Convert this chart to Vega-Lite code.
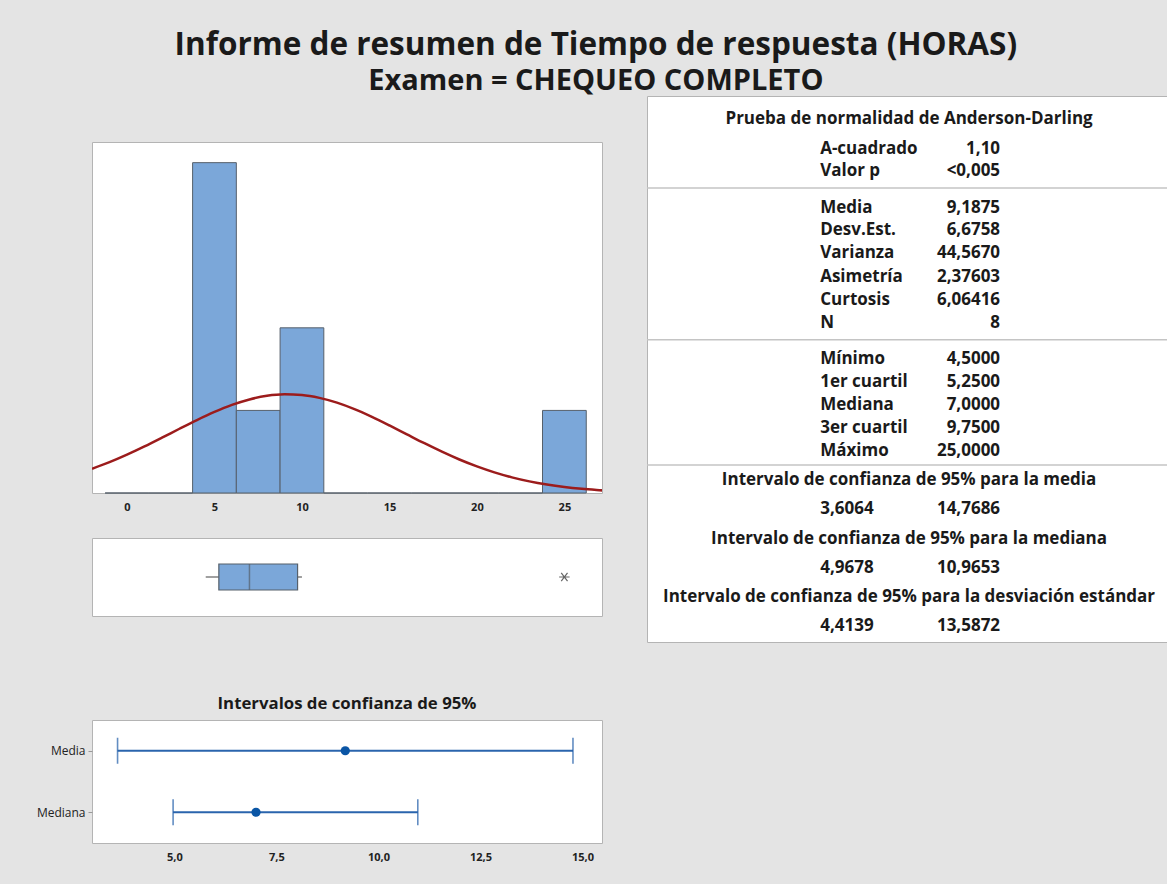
{
  "$schema": "https://vega.github.io/schema/vega-lite/v6.json",
  "background": "#e4e4e4",
  "padding": {"left": 31, "top": 30, "right": 0, "bottom": 60},
  "title": {
    "text": "Informe de resumen de Tiempo de respuesta (HORAS)",
    "subtitle": "Examen = CHEQUEO COMPLETO",
    "anchor": "middle", "dx": -4,
    "font": "Open Sans", "fontSize": 31.5, "fontWeight": "bold", "color": "#1a1a1a",
    "subtitleFont": "Open Sans", "subtitleFontSize": 29, "subtitleFontWeight": "bold", "subtitleColor": "#1a1a1a",
    "subtitlePadding": 5, "offset": 0
  },
  "config": {
    "view": {"fill": "white", "stroke": "#b4b4b4", "strokeWidth": 1},
    "font": "Open Sans",
    "axis": {"grid": false, "labelFont": "Open Sans", "labelColor": "#222222", "titleFont": "Open Sans"}
  },
  "datasets": {
    "bins": [
      {"start": -1.25, "end": 1.25, "count": 0},
      {"start": 1.25, "end": 3.75, "count": 0},
      {"start": 3.75, "end": 6.25, "count": 4},
      {"start": 6.25, "end": 8.75, "count": 1},
      {"start": 8.75, "end": 11.25, "count": 2},
      {"start": 11.25, "end": 13.75, "count": 0},
      {"start": 13.75, "end": 16.25, "count": 0},
      {"start": 16.25, "end": 18.75, "count": 0},
      {"start": 18.75, "end": 21.25, "count": 0},
      {"start": 21.25, "end": 23.75, "count": 0},
      {"start": 23.75, "end": 26.25, "count": 1}
    ],
    "curve": [
      {"x": -2, "dens": 0.2935}, {"x": -1, "dens": 0.3730}, {"x": 0, "dens": 0.4636},
      {"x": 1, "dens": 0.5634}, {"x": 2, "dens": 0.6694}, {"x": 3, "dens": 0.7779},
      {"x": 4, "dens": 0.8837}, {"x": 5, "dens": 0.9817}, {"x": 6, "dens": 1.0665},
      {"x": 7, "dens": 1.1327}, {"x": 8, "dens": 1.1764}, {"x": 9, "dens": 1.1947},
      {"x": 10, "dens": 1.1864}, {"x": 11, "dens": 1.1519}, {"x": 12, "dens": 1.0937},
      {"x": 13, "dens": 1.0153}, {"x": 14, "dens": 0.9217}, {"x": 15, "dens": 0.8181},
      {"x": 16, "dens": 0.7101}, {"x": 17, "dens": 0.6026}, {"x": 18, "dens": 0.5001},
      {"x": 19, "dens": 0.4058}, {"x": 20, "dens": 0.3220}, {"x": 21, "dens": 0.2498},
      {"x": 22, "dens": 0.1894}, {"x": 23, "dens": 0.1405}, {"x": 24, "dens": 0.1020},
      {"x": 25, "dens": 0.0723}, {"x": 26, "dens": 0.0502}, {"x": 27, "dens": 0.0340},
      {"x": 27.2, "dens": 0.0310}
    ],
    "box": [
      {"g": "a", "wlo": 4.5, "q1": 5.25, "med": 7.0, "q3": 9.75, "whi": 10.0, "out": 25.0}
    ],
    "ci": [
      {"stat": "Media", "lo": 3.6064, "est": 9.1875, "hi": 14.7686},
      {"stat": "Mediana", "lo": 4.9678, "est": 7.0, "hi": 10.9653}
    ],
    "table": [
      {"t": "Prueba de normalidad de Anderson-Darling", "row": 1.0, "x": 50.4, "al": "c"},
      {"t": "A-cuadrado", "row": 2.3, "x": 33.3, "al": "l"},
      {"t": "1,10", "row": 2.3, "x": 67.9, "al": "r"},
      {"t": "Valor p", "row": 3.26, "x": 33.3, "al": "l"},
      {"t": "<0,005", "row": 3.26, "x": 67.9, "al": "r"},
      {"t": "Media", "row": 4.87, "x": 33.3, "al": "l"},
      {"t": "9,1875", "row": 4.87, "x": 67.9, "al": "r"},
      {"t": "Desv.Est.", "row": 5.83, "x": 33.3, "al": "l"},
      {"t": "6,6758", "row": 5.83, "x": 67.9, "al": "r"},
      {"t": "Varianza", "row": 6.83, "x": 33.3, "al": "l"},
      {"t": "44,5670", "row": 6.83, "x": 67.9, "al": "r"},
      {"t": "Asimetría", "row": 7.87, "x": 33.3, "al": "l"},
      {"t": "2,37603", "row": 7.87, "x": 67.9, "al": "r"},
      {"t": "Curtosis", "row": 8.87, "x": 33.3, "al": "l"},
      {"t": "6,06416", "row": 8.87, "x": 67.9, "al": "r"},
      {"t": "N", "row": 9.87, "x": 33.3, "al": "l"},
      {"t": "8", "row": 9.87, "x": 67.9, "al": "r"},
      {"t": "Mínimo", "row": 11.43, "x": 33.3, "al": "l"},
      {"t": "4,5000", "row": 11.43, "x": 67.9, "al": "r"},
      {"t": "1er cuartil", "row": 12.43, "x": 33.3, "al": "l"},
      {"t": "5,2500", "row": 12.43, "x": 67.9, "al": "r"},
      {"t": "Mediana", "row": 13.43, "x": 33.3, "al": "l"},
      {"t": "7,0000", "row": 13.43, "x": 67.9, "al": "r"},
      {"t": "3er cuartil", "row": 14.43, "x": 33.3, "al": "l"},
      {"t": "9,7500", "row": 14.43, "x": 67.9, "al": "r"},
      {"t": "Máximo", "row": 15.43, "x": 33.3, "al": "l"},
      {"t": "25,0000", "row": 15.43, "x": 67.9, "al": "r"},
      {"t": "Intervalo de confianza de 95% para la media", "row": 16.7, "x": 50.4, "al": "c"},
      {"t": "3,6064", "row": 17.96, "x": 33.3, "al": "l"},
      {"t": "14,7686", "row": 17.96, "x": 67.9, "al": "r"},
      {"t": "Intervalo de confianza de 95% para la mediana", "row": 19.26, "x": 50.4, "al": "c"},
      {"t": "4,9678", "row": 20.52, "x": 33.3, "al": "l"},
      {"t": "10,9653", "row": 20.52, "x": 67.9, "al": "r"},
      {"t": "Intervalo de confianza de 95% para la desviación estándar", "row": 21.78, "x": 50.4, "al": "c"},
      {"t": "4,4139", "row": 23.04, "x": 33.3, "al": "l"},
      {"t": "13,5872", "row": 23.04, "x": 67.9, "al": "r"}
    ],
    "seps": [
      {"row": 4.0, "x0": 0, "x1": 100},
      {"row": 10.6, "x0": 0, "x1": 100},
      {"row": 16.04, "x0": 0, "x1": 100}
    ]
  },
  "spacing": 42,
  "hconcat": [
    {
      "spacing": 0,
      "vconcat": [
        {
          "width": 510,
          "height": 44,
          "view": {"fill": "transparent", "stroke": "transparent"},
          "data": {"values": []},
          "mark": {"type": "rule"},
          "encoding": {}
        },
        {
          "width": 510,
          "height": 351,
          "layer": [
            {
              "data": {"name": "bins"},
              "mark": {"type": "bar", "fill": "#7ba7d9", "stroke": "#56606b", "strokeWidth": 1},
              "encoding": {
                "x": {"field": "start", "type": "quantitative",
                      "scale": {"domain": [-2, 27.15], "nice": false, "zero": false},
                      "axis": {"values": [0, 5, 10, 15, 20, 25], "labelFontSize": 11, "labelFontWeight": "bold",
                               "ticks": false, "domain": false, "labelPadding": 8, "title": null, "labelFlush": false,
                               "minExtent": 43, "maxExtent": 43}},
                "x2": {"field": "end"},
                "y": {"field": "count", "type": "quantitative",
                      "scale": {"domain": [0, 4.25], "nice": false},
                      "axis": {"labels": false, "ticks": false, "domain": false, "title": null, "minExtent": 60, "maxExtent": 60}},
                "y2": {"datum": 0}
              }
            },
            {
              "data": {"name": "curve"},
              "mark": {"type": "line", "color": "#9c1c1c", "strokeWidth": 2.5, "interpolate": "monotone", "clip": true},
              "encoding": {
                "x": {"field": "x", "type": "quantitative",
                      "scale": {"domain": [-2, 27.15], "nice": false, "zero": false},
                      "axis": {"values": [0, 5, 10, 15, 20, 25], "labelFontSize": 11, "labelFontWeight": "bold",
                               "ticks": false, "domain": false, "labelPadding": 8, "title": null, "labelFlush": false,
                               "minExtent": 43, "maxExtent": 43}},
                "y": {"field": "dens", "type": "quantitative",
                      "scale": {"domain": [0, 4.25], "nice": false},
                      "axis": {"labels": false, "ticks": false, "domain": false, "title": null, "minExtent": 60, "maxExtent": 60}}
              }
            }
          ]
        },
        {
          "width": 510,
          "height": 78,
          "data": {"name": "box"},
          "layer": [
            {
              "mark": {"type": "rule", "color": "#a0a0a0", "strokeWidth": 2},
              "encoding": {
                "x": {"field": "wlo", "type": "quantitative",
                      "scale": {"domain": [-2, 27.15], "nice": false, "zero": false},
                      "axis": {"labels": false, "ticks": false, "domain": false, "title": null, "minExtent": 78, "maxExtent": 78}},
                "x2": {"field": "q1"},
                "y": {"field": "g", "type": "nominal",
                      "scale": {"type": "band", "paddingInner": 0, "paddingOuter": 0},
                      "axis": {"labels": false, "ticks": false, "domain": false, "title": null, "minExtent": 60, "maxExtent": 60}}
              }
            },
            {
              "mark": {"type": "rule", "color": "#a0a0a0", "strokeWidth": 2},
              "encoding": {
                "x": {"field": "q3", "type": "quantitative"},
                "x2": {"field": "whi"},
                "y": {"field": "g", "type": "nominal"}
              }
            },
            {
              "mark": {"type": "bar", "fill": "#7ba7d9", "stroke": "#56606b", "strokeWidth": 1.2, "size": 26},
              "encoding": {
                "x": {"field": "q1", "type": "quantitative"},
                "x2": {"field": "q3"},
                "y": {"field": "g", "type": "nominal"}
              }
            },
            {
              "mark": {"type": "tick", "color": "#56606b", "thickness": 1.5, "size": 26},
              "encoding": {
                "x": {"field": "med", "type": "quantitative"},
                "y": {"field": "g", "type": "nominal"}
              }
            },
            {
              "mark": {"type": "point", "shape": "M-1,0L1,0M-0.6,-0.8L0.6,0.8M-0.6,0.8L0.6,-0.8", "filled": false, "stroke": "#666666", "strokeWidth": 1.2, "size": 110, "opacity": 1},
              "encoding": {
                "x": {"field": "out", "type": "quantitative"},
                "y": {"field": "g", "type": "nominal"}
              }
            }
          ]
        },
        {
          "width": 510,
          "height": 123,
          "title": {"text": "Intervalos de confianza de 95%", "font": "Open Sans", "fontSize": 16.8, "fontWeight": "bold", "color": "#1a1a1a", "anchor": "middle", "offset": 7},
          "data": {"name": "ci"},
          "layer": [
            {
              "mark": {"type": "rule", "color": "#2a64ad", "strokeWidth": 2},
              "encoding": {
                "x": {"field": "lo", "type": "quantitative",
                      "scale": {"domain": [2.98, 15.48], "nice": false, "zero": false},
                      "axis": {"values": [5, 7.5, 10, 12.5, 15], "labelExpr": "replace(format(datum.value, '.1f'), '.', ',')",
                               "labelFontSize": 11, "labelFontWeight": "bold", "ticks": false, "domain": false, "labelPadding": 8, "title": null}},
                "x2": {"field": "hi"},
                "y": {"field": "stat", "type": "nominal",
                      "scale": {"type": "point", "padding": 0.5, "domain": ["Media", "Mediana"]},
                      "axis": {"ticks": true, "tickSize": 4, "tickColor": "#999999", "domain": false, "labelFontSize": 12,
                               "labelPadding": 3, "title": null, "minExtent": 60, "maxExtent": 60}}
              }
            },
            {
              "mark": {"type": "tick", "color": "#1f5ca8", "thickness": 1.6, "size": 26},
              "encoding": {
                "x": {"field": "lo", "type": "quantitative"},
                "y": {"field": "stat", "type": "nominal"}
              }
            },
            {
              "mark": {"type": "tick", "color": "#1f5ca8", "thickness": 1.6, "size": 26},
              "encoding": {
                "x": {"field": "hi", "type": "quantitative"},
                "y": {"field": "stat", "type": "nominal"}
              }
            },
            {
              "mark": {"type": "point", "filled": true, "color": "#0a55a5", "size": 85, "opacity": 1},
              "encoding": {
                "x": {"field": "est", "type": "quantitative"},
                "y": {"field": "stat", "type": "nominal"}
              }
            }
          ]
        }
      ]
    },
    {
      "width": 520,
      "height": 546,
      "layer": [
        {
          "data": {"name": "seps"},
          "mark": {"type": "rule", "color": "#c4c4c4", "strokeWidth": 1.5},
          "encoding": {
            "x": {"field": "x0", "type": "quantitative", "scale": {"domain": [0, 100], "nice": false}, "axis": null},
            "x2": {"field": "x1"},
            "y": {"field": "row", "type": "quantitative", "scale": {"domain": [0, 23.74], "nice": false, "reverse": true, "zero": false}, "axis": null}
          }
        },
        {
          "data": {"name": "table"},
          "transform": [{"filter": "datum.al == 'c'"}],
          "mark": {"type": "text", "align": "center", "baseline": "middle", "font": "Open Sans", "fontSize": 17, "fontWeight": "bold", "color": "#1a1a1a"},
          "encoding": {
            "x": {"field": "x", "type": "quantitative"},
            "y": {"field": "row", "type": "quantitative"},
            "text": {"field": "t"}
          }
        },
        {
          "data": {"name": "table"},
          "transform": [{"filter": "datum.al == 'l'"}],
          "mark": {"type": "text", "align": "left", "baseline": "middle", "font": "Open Sans", "fontSize": 17, "fontWeight": "bold", "color": "#1a1a1a"},
          "encoding": {
            "x": {"field": "x", "type": "quantitative"},
            "y": {"field": "row", "type": "quantitative"},
            "text": {"field": "t"}
          }
        },
        {
          "data": {"name": "table"},
          "transform": [{"filter": "datum.al == 'r'"}],
          "mark": {"type": "text", "align": "right", "baseline": "middle", "font": "Open Sans", "fontSize": 17, "fontWeight": "bold", "color": "#1a1a1a"},
          "encoding": {
            "x": {"field": "x", "type": "quantitative"},
            "y": {"field": "row", "type": "quantitative"},
            "text": {"field": "t"}
          }
        }
      ]
    }
  ]
}
